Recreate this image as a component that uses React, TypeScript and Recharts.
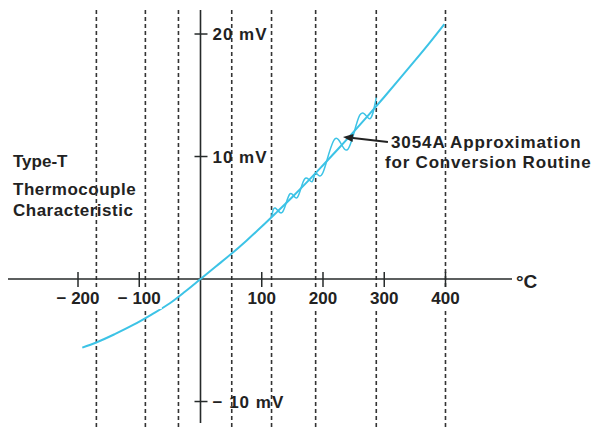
import { LineChart, Line, XAxis, YAxis, ReferenceLine, ReferenceDot } from 'recharts'

// Type-T characteristic (deg C -> mV)
const tempC = [-193, -170, -140, -110, -80, -50, -25, 0, 25, 50, 75, 100, 125, 150, 175, 200, 225, 250, 275, 300, 325, 350, 375, 398]
const milliV = [-5.6, -5.18, -4.5, -3.75, -2.9, -1.98, -1.02, 0, 1.02, 2.04, 3.13, 4.28, 5.48, 6.7, 7.97, 9.29, 10.63, 12.01, 13.42, 14.86, 16.33, 17.82, 19.34, 20.8]

// 3054A piecewise approximation (wiggles around the curve)
const approxC = [116, 122, 134, 146, 158, 170, 182, 188, 200, 220, 240, 260, 276, 287]
const approxMV = [5.05, 5.8, 5.47, 6.95, 6.65, 8.17, 7.94, 8.66, 8.7, 11.46, 10.56, 13.37, 13.08, 14.8]

// breakpoints of the conversion routine (dashed lines)
const breakpoints = [-170, -90, -36, 51, 116, 188, 287, 400]

const xTicks = [-200, -100, 100, 200, 300, 400]
const xTickLabels = ['− 200', '− 100', '100', '200', '300', '400']
const yTicks = [20, 10, -10]
const yTickLabels = ['20 mV', '10 mV', '− 10 mV']

const mainData = tempC.map((t, i) => ({ t, v: milliV[i] }))
const approxData = approxC.map((t, i) => ({ t, v: approxMV[i] }))

const INK = '#262a2a'
const CYAN = '#3cc3e6'
const FONT = '"Liberation Sans", Arial, Helvetica, sans-serif'

const txt = {
  fontFamily: FONT,
  fontWeight: 700,
  fontSize: 17,
  fill: '#222',
}

export default function App() {
  return (
    <div style={{ position: 'absolute', left: 0, top: 0, width: 595, height: 427, background: '#fff' }}>
      <LineChart width={595} height={427} margin={{ top: 10, right: 83, bottom: 0, left: 8 }}>
        <XAxis hide type="number" dataKey="t" domain={[-314.3, 508.6]} allowDataOverflow />
        <YAxis hide type="number" domain={[-12.08, 21.96]} allowDataOverflow />

        {breakpoints.map((b) => (
          <ReferenceLine key={b} x={b} stroke="#333" strokeWidth={1.6} strokeDasharray="4 3" />
        ))}

        <ReferenceLine y={0} stroke={INK} strokeWidth={1.6} />
        <ReferenceLine
          segment={[
            { x: 0, y: -11.75 },
            { x: 0, y: 21.96 },
          ]}
          stroke={INK}
          strokeWidth={1.6}
        />

        {xTicks.map((v, i) => (
          <ReferenceDot
            key={'x' + v}
            x={v}
            y={0}
            r={0}
            shape={(p: any) => {
              const w = xTickLabels[i].length * 8.6 + 2
              return (
                <g>
                  <rect x={p.cx - w / 2} y={p.cy + 10} width={w} height={20} fill="#fff" />
                  <line x1={p.cx} x2={p.cx} y1={p.cy - 7} y2={p.cy + 8} stroke={INK} strokeWidth={1.5} />
                  <text x={p.cx} y={p.cy + 25} textAnchor="middle" style={txt}>
                    {xTickLabels[i]}
                  </text>
                </g>
              )
            }}
          />
        ))}

        {yTicks.map((v, i) => (
          <ReferenceDot
            key={'y' + v}
            x={0}
            y={v}
            r={0}
            shape={(p: any) => (
              <g>
                <line x1={p.cx - 6} x2={p.cx + 7} y1={p.cy} y2={p.cy} stroke={INK} strokeWidth={1.5} />
                <text x={p.cx + 12} y={p.cy + 6} style={{ ...txt, letterSpacing: 1 }}>
                  {yTickLabels[i]}
                </text>
              </g>
            )}
          />
        ))}

        <Line
          data={mainData}
          dataKey="v"
          type="monotone"
          stroke={CYAN}
          strokeWidth={2}
          dot={false}
          isAnimationActive={false}
        />
        <Line
          data={approxData}
          dataKey="v"
          type="natural"
          stroke={CYAN}
          strokeWidth={1.5}
          dot={false}
          isAnimationActive={false}
        />

        <ReferenceLine
          segment={[
            { x: 306, y: 11.18 },
            { x: 232.7, y: 11.6 },
          ]}
          shape={(p: any) => {
            const { x1, y1, x2, y2 } = p
            const a = Math.atan2(y2 - y1, x2 - x1)
            const len = 10
            const w = 4
            const bx = x2 - len * Math.cos(a)
            const by = y2 - len * Math.sin(a)
            const nx = -Math.sin(a) * w
            const ny = Math.cos(a) * w
            return (
              <g>
                <line x1={x1} y1={y1} x2={bx} y2={by} stroke="#222" strokeWidth={2} />
                <polygon points={`${x2},${y2} ${bx + nx},${by + ny} ${bx - nx},${by - ny}`} fill="#222" />
              </g>
            )
          }}
        />

        <text x={13} y={167} style={txt}>Type-T</text>
        <text x={13} y={195} style={{ ...txt, letterSpacing: 0.5 }}>Thermocouple</text>
        <text x={13} y={216} style={{ ...txt, letterSpacing: 0.5 }}>Characteristic</text>
        <text x={391} y={148} style={{ ...txt, letterSpacing: 0.9 }}>3054A Approximation</text>
        <text x={385} y={168} style={{ ...txt, letterSpacing: 0.8 }}>for Conversion Routine</text>
        <text x={516} y={288} style={{ ...txt, fontSize: 19, fontWeight: 600 }}>°C</text>
      </LineChart>
    </div>
  )
}
